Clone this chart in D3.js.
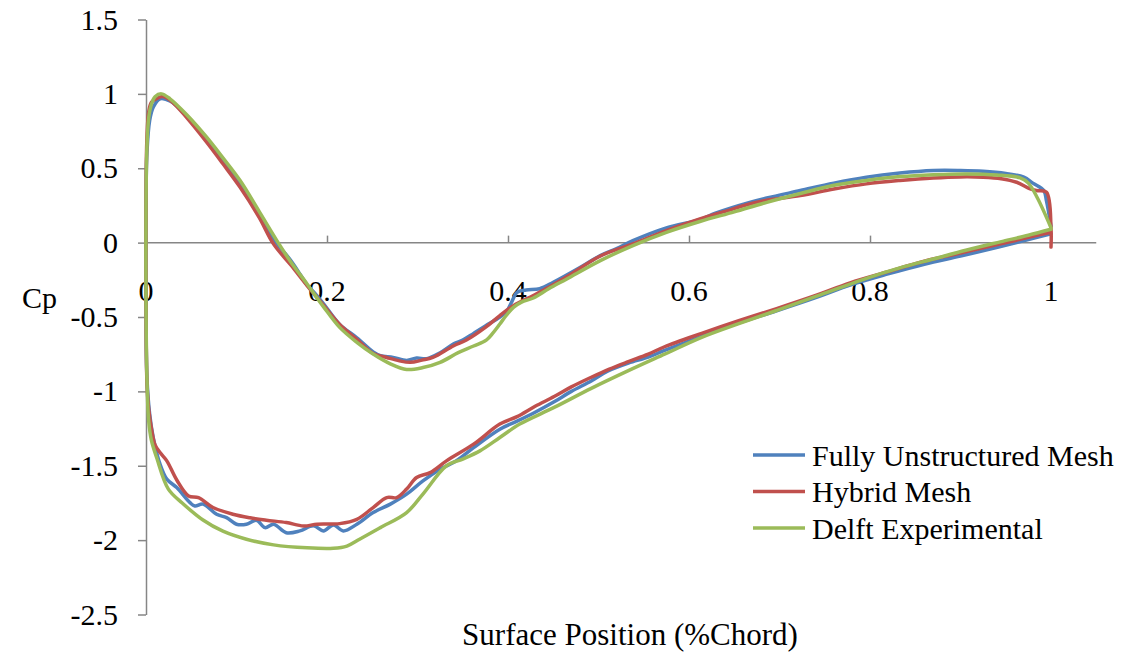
<!DOCTYPE html>
<html>
<head>
<meta charset="utf-8">
<script src="https://cdn.jsdelivr.net/npm/d3@7"></script>
<style>
  html, body { margin: 0; padding: 0; background: #ffffff; }
  svg { display: block; }
  text { font-family: "Liberation Serif", "Times New Roman", serif; fill: #000; }
</style>
</head>
<body>
<svg id="chart" width="1144" height="656"></svg>
<script>
// ---- Data (surface position x/c, Cp) : upper surface TE->LE then lower surface LE->TE ----
const seriesNames = ["Fully Unstructured Mesh", "Hybrid Mesh", "Delft Experimental"];
const seriesColors = ["#4F81BD", "#C0504D", "#9BBB59"];

const xTickValues = [0, 0.2, 0.4, 0.6, 0.8, 1];
const xTickLabels = ["0", "0.2", "0.4", "0.6", "0.8", "1"];
const yTickValues = [-2.5, -2, -1.5, -1, -0.5, 0, 0.5, 1, 1.5];
const yTickLabels = ["-2.5", "-2", "-1.5", "-1", "-0.5", "0", "0.5", "1", "1.5"];

const fullyX = [1.000,0.995,0.992,0.980,0.970,0.950,0.925,0.900,0.870,0.833,0.796,0.760,0.723,0.686,0.667,0.630,0.612,0.575,0.538,0.520,0.502,0.480,0.450,0.435,0.420,0.410,0.404,0.399,0.391,0.375,0.362,0.350,0.340,0.325,0.310,0.299,0.288,0.273,0.259,0.251,0.233,0.214,0.196,0.185,0.178,0.170,0.160,0.144,0.125,0.104,0.085,0.067,0.045,0.027,0.0155,0.008,0.004,0.001,0.000,
  0.000,0.001,0.004,0.008,0.0155,0.023,0.034,0.0486,0.054,0.063,0.078,0.089,0.100,0.111,0.122,0.1315,0.141,0.155,0.170,0.185,0.196,0.207,0.218,0.233,0.251,0.270,0.288,0.306,0.325,0.343,0.362,0.391,0.410,0.430,0.451,0.470,0.492,0.510,0.533,0.555,0.573,0.614,0.655,0.696,0.740,0.778,0.820,0.860,0.900,0.942,0.975,1.000];
const fullyCp = [0.11,0.28,0.35,0.40,0.44,0.465,0.48,0.485,0.485,0.468,0.44,0.40,0.35,0.30,0.271,0.20,0.155,0.099,0.013,-0.04,-0.087,-0.166,-0.267,-0.31,-0.318,-0.334,-0.40,-0.458,-0.50,-0.56,-0.61,-0.655,-0.68,-0.74,-0.78,-0.776,-0.792,-0.772,-0.76,-0.735,-0.64,-0.55,-0.41,-0.33,-0.285,-0.21,-0.12,0.0,0.19,0.39,0.55,0.69,0.85,0.95,0.967,0.91,0.82,0.60,0.25,
  -0.40,-0.90,-1.15,-1.31,-1.489,-1.59,-1.647,-1.748,-1.77,-1.758,-1.826,-1.849,-1.893,-1.893,-1.866,-1.916,-1.893,-1.95,-1.938,-1.904,-1.938,-1.898,-1.938,-1.893,-1.815,-1.758,-1.691,-1.602,-1.523,-1.467,-1.378,-1.254,-1.20,-1.14,-1.07,-1.00,-0.93,-0.865,-0.81,-0.77,-0.725,-0.63,-0.54,-0.46,-0.37,-0.285,-0.21,-0.145,-0.09,-0.03,0.02,0.06];

const hybridX = [1.000,1.000,0.995,0.984,0.977,0.962,0.945,0.925,0.900,0.870,0.833,0.796,0.760,0.723,0.686,0.667,0.640,0.612,0.575,0.538,0.502,0.465,0.445,0.428,0.406,0.391,0.375,0.354,0.340,0.317,0.305,0.292,0.280,0.266,0.251,0.233,0.214,0.196,0.178,0.160,0.141,0.125,0.104,0.085,0.067,0.045,0.030,0.019,0.012,0.006,0.003,0.001,0.000,
  0.000,0.001,0.003,0.006,0.010,0.0155,0.023,0.034,0.047,0.058,0.074,0.096,0.115,0.133,0.155,0.174,0.189,0.214,0.233,0.251,0.266,0.277,0.288,0.299,0.314,0.332,0.362,0.391,0.410,0.430,0.451,0.470,0.492,0.512,0.533,0.555,0.573,0.614,0.655,0.696,0.740,0.778,0.820,0.860,0.900,0.942,0.975,1.000];
const hybridCp = [-0.03,0.10,0.339,0.35,0.361,0.406,0.43,0.44,0.442,0.435,0.418,0.395,0.36,0.316,0.285,0.26,0.21,0.159,0.081,-0.009,-0.09,-0.23,-0.30,-0.355,-0.424,-0.49,-0.57,-0.655,-0.693,-0.772,-0.79,-0.805,-0.795,-0.772,-0.745,-0.65,-0.55,-0.42,-0.289,-0.15,-0.01,0.17,0.372,0.53,0.675,0.84,0.94,0.982,0.97,0.944,0.88,0.70,0.30,
  -0.40,-0.93,-1.12,-1.25,-1.36,-1.411,-1.467,-1.596,-1.703,-1.714,-1.781,-1.826,-1.85,-1.866,-1.882,-1.905,-1.893,-1.889,-1.86,-1.781,-1.714,-1.714,-1.657,-1.579,-1.546,-1.467,-1.355,-1.22,-1.17,-1.10,-1.035,-0.97,-0.905,-0.85,-0.80,-0.75,-0.70,-0.61,-0.525,-0.445,-0.355,-0.27,-0.195,-0.125,-0.07,-0.012,0.035,0.07];

const delftX = [1.000,0.985,0.975,0.966,0.940,0.907,0.870,0.833,0.796,0.759,0.723,0.686,0.650,0.612,0.575,0.538,0.502,0.465,0.445,0.428,0.415,0.406,0.398,0.391,0.383,0.376,0.362,0.345,0.325,0.306,0.288,0.270,0.251,0.233,0.214,0.196,0.178,0.160,0.146,0.125,0.104,0.085,0.067,0.045,0.0265,0.017,0.010,0.006,0.003,0.001,0.000,
  0.000,0.001,0.003,0.006,0.012,0.0247,0.040,0.063,0.085,0.111,0.141,0.178,0.207,0.222,0.236,0.259,0.288,0.306,0.332,0.350,0.369,0.391,0.413,0.451,0.492,0.533,0.573,0.614,0.655,0.696,0.741,0.796,0.833,0.870,0.907,0.944,0.975,1.000];
const delftCp = [0.10,0.30,0.40,0.435,0.455,0.462,0.457,0.444,0.418,0.384,0.33,0.271,0.207,0.142,0.069,-0.02,-0.121,-0.244,-0.31,-0.372,-0.40,-0.435,-0.49,-0.547,-0.61,-0.655,-0.695,-0.74,-0.805,-0.84,-0.853,-0.815,-0.749,-0.67,-0.57,-0.43,-0.278,-0.13,0.0,0.21,0.417,0.57,0.709,0.86,0.967,1.0,0.98,0.93,0.84,0.64,0.25,
  -0.40,-0.90,-1.20,-1.33,-1.45,-1.657,-1.75,-1.865,-1.94,-1.994,-2.032,-2.052,-2.055,-2.04,-1.994,-1.916,-1.815,-1.69,-1.50,-1.455,-1.40,-1.31,-1.22,-1.108,-0.98,-0.861,-0.75,-0.637,-0.545,-0.458,-0.36,-0.24,-0.17,-0.11,-0.05,0.005,0.05,0.09];

const seriesX = [fullyX, hybridX, delftX];
const seriesY = [fullyCp, hybridCp, delftCp];

// ---- Layout ----
const svg = d3.select("#chart");
const axisColor = "#868686";

const x = d3.scaleLinear().domain([0, 1.05]).range([146, 1096.25]);
const y = d3.scaleLinear().domain([-2.5, 1.5]).range([614.5, 19.5]);

// Y axis
const yAxis = d3.axisLeft(y).tickValues(yTickValues)
  .tickFormat((d, i) => yTickLabels[i]).tickSize(8).tickSizeOuter(0).tickPadding(20);
const gy = svg.append("g").attr("transform", `translate(${x(0)},0)`).call(yAxis);
gy.select(".domain").attr("stroke", axisColor).attr("stroke-width", 1.5);
gy.selectAll(".tick line").attr("stroke", axisColor).attr("stroke-width", 1.5);
gy.selectAll(".tick text").attr("font-family", "Liberation Serif").attr("font-size", 30).attr("fill", "#000");

// X axis (crossing at Cp = 0), ticks pointing up, labels placed below
const xAxis = d3.axisTop(x).tickValues(xTickValues)
  .tickFormat(() => "").tickSize(7).tickSizeOuter(0);
const gx = svg.append("g").attr("transform", `translate(0,${y(0)})`).call(xAxis);
gx.select(".domain").attr("stroke", axisColor).attr("stroke-width", 1.5)
  .attr("d", `M${x(0)},0H${x(1.05)}`);
gx.selectAll(".tick line").attr("stroke", axisColor).attr("stroke-width", 1.5);

svg.append("g").selectAll("text").data(xTickValues).join("text")
  .attr("x", d => x(d)).attr("y", y(0) + 58)
  .attr("text-anchor", "middle").attr("font-size", 30)
  .text((d, i) => xTickLabels[i]);

// Axis titles
svg.append("text").attr("x", 22).attr("y", 308).attr("font-size", 30).text("Cp");
svg.append("text").attr("x", 630).attr("y", 645).attr("text-anchor", "middle")
  .attr("font-size", 31).text("Surface Position (%Chord)");

// Lines
const line = d3.line()
  .x(d => x(d[0])).y(d => y(d[1]))
  .curve(d3.curveCatmullRom.alpha(0.5));

const linesG = svg.append("g");
seriesNames.forEach((name, i) => {
  const pts = seriesX[i].map((xv, j) => [xv, seriesY[i][j]]);
  linesG.append("path").datum(pts)
    .attr("fill", "none").attr("stroke", seriesColors[i])
    .attr("stroke-width", 3.5).attr("stroke-linejoin", "round").attr("stroke-linecap", "round")
    .attr("d", line);
});

// Legend
const legend = svg.append("g");
seriesNames.forEach((name, i) => {
  const ly = 455 + i * 36.5;
  legend.append("line").attr("x1", 753).attr("x2", 805).attr("y1", ly).attr("y2", ly)
    .attr("stroke", seriesColors[i]).attr("stroke-width", 3.5);
  legend.append("text").attr("x", 812).attr("y", ly).attr("dy", "0.35em")
    .attr("font-size", 30).text(name);
});
</script>
</body>
</html>
